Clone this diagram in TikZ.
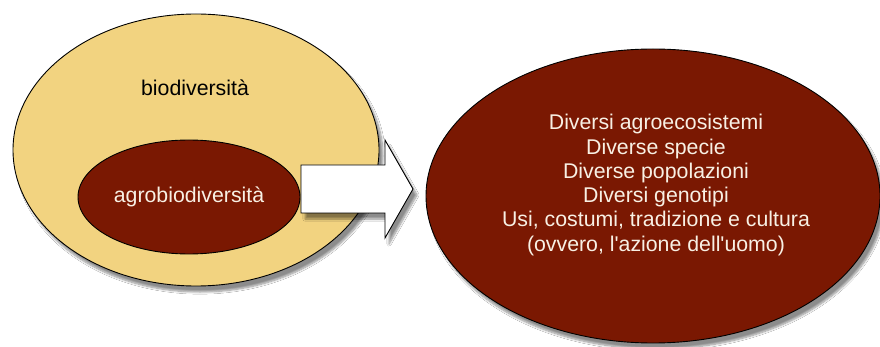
\documentclass[tikz,border=0pt]{standalone}
\usepackage{fontspec}
\setmainfont{Liberation Sans}[Ligatures=TeXOff]
\usetikzlibrary{shapes.geometric,shadows.blur}
\definecolor{sand}{RGB}{242,211,128}
\definecolor{maroon}{RGB}{122,24,2}
\definecolor{cream}{RGB}{248,240,228}
\tikzset{
  blob/.style={ellipse, draw=black, line width=0.9pt, inner sep=0pt,
    blur shadow={shadow xshift=4pt, shadow yshift=-6pt, shadow blur steps=8, shadow opacity=45}},
  lbl/.style={font=\fontsize{21.3}{24.3}\selectfont, align=center},
}
\begin{document}
\begin{tikzpicture}[x=1pt,y=-1pt]
\useasboundingbox (0,0) rectangle (880,347);
\fill[white] (0,0) rectangle (880,347);
\node[blob, fill=sand, minimum width=366, minimum height=272] (bio) at (196,150) {};
\node[lbl, text=black] (biot) at (195,88) {biodiversità};
\node[ellipse, draw=black, line width=0.9pt, inner sep=0pt, fill=maroon,
      minimum width=222, minimum height=114, lbl, text=cream] (agro) at (189,197) {agrobiodiversità};
\draw[line width=0.9pt, fill=white,
  blur shadow={shadow xshift=4pt, shadow yshift=-6pt, shadow blur steps=8, shadow opacity=45}]
  (301,165) -- (385,165) -- (385,140) -- (413,189) -- (385,238) -- (385,213) -- (301,213) -- cycle;
\node[blob, fill=maroon, minimum width=454, minimum height=294] (div) at (653,196) {};
\node[lbl, text=cream] (divt) at (656,185)
  {Diversi agroecosistemi\\Diverse specie\\Diverse popolazioni\\Diversi genotipi\\Usi, costumi, tradizione e cultura\\(ovvero, l'azione dell'uomo)};
\end{tikzpicture}
\end{document}
